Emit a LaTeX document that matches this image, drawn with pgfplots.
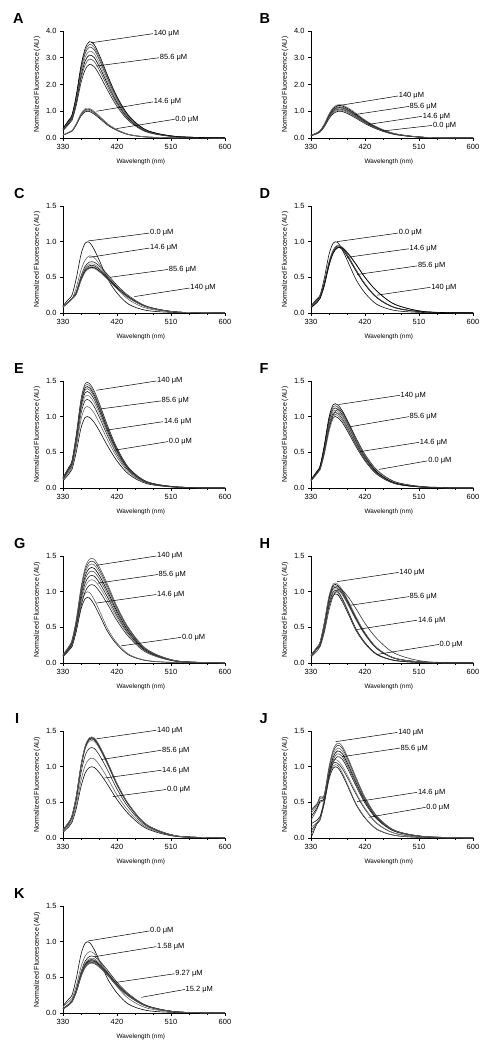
\documentclass[border=0pt]{standalone}
\usepackage{pgfplots}
\usepackage{pgfplotstable}
\pgfplotsset{compat=1.18}
\usepackage{fontspec}
\setmainfont{Liberation Sans}

% ---------- data: one row per spectrum, columns = wavelength (nm) ----------
\pgfplotstableread{
n 330 340 345 352 360 367 374 382 392 405 420 440 470 520 600
c1 .10 .20 .25 .48 .82 .98 .99 .89 .71 .47 .28 .12 .035 .006 .001
c2 .104 .208 .26 .50 .853 1.019 1.03 .926 .738 .489 .291 .125 .036 .006 .001
c3 .108 .216 .27 .518 .886 1.058 1.069 .961 .767 .508 .302 .13 .038 .006 .001
c4 .112 .224 .28 .538 .918 1.098 1.109 .997 .795 .526 .314 .134 .039 .007 .001
c5 .275 .523 .66 1.21 2.063 2.558 2.75 2.668 2.31 1.76 1.183 .633 .22 .041 .006
c6 .295 .561 .708 1.298 2.213 2.744 2.95 2.862 2.478 1.888 1.269 .679 .236 .044 .006
c7 .31 .589 .744 1.364 2.325 2.883 3.1 3.007 2.604 1.984 1.333 .713 .248 .047 .006
c8 .325 .618 .78 1.43 2.438 3.023 3.25 3.153 2.73 2.08 1.398 .748 .26 .049 .007
c9 .34 .646 .816 1.496 2.55 3.162 3.4 3.298 2.856 2.176 1.462 .782 .272 .051 .007
c10 .35 .665 .84 1.54 2.625 3.255 3.5 3.395 2.94 2.24 1.505 .805 .28 .053 .007
c11 .36 .684 .864 1.584 2.7 3.348 3.6 3.492 3.024 2.304 1.548 .828 .288 .054 .007
}\rawA
\pgfplotstabletranspose[colnames from=n,input colnames to=x]{\tabA}{\rawA}

\pgfplotstableread{
n 330 340 345 352 360 367 374 382 392 405 420 440 470 520 600
c1 .08 .16 .22 .41 .72 .91 .99 .99 .90 .74 .54 .33 .13 .02 .003
c2 .083 .166 .229 .426 .749 .946 1.03 1.03 .936 .77 .562 .343 .135 .021 .003
c3 .086 .173 .238 .443 .778 .983 1.069 1.069 .972 .799 .583 .356 .14 .022 .003
c4 .089 .178 .244 .455 .799 1.01 1.099 1.099 .999 .821 .599 .366 .144 .022 .003
c5 .091 .182 .251 .467 .821 1.037 1.129 1.129 1.026 .844 .616 .376 .148 .023 .003
c6 .094 .187 .257 .48 .842 1.065 1.158 1.158 1.053 .866 .632 .386 .152 .023 .004
c7 .097 .194 .266 .496 .871 1.101 1.198 1.198 1.089 .895 .653 .399 .157 .024 .004
c8 .10 .20 .275 .513 .90 1.138 1.238 1.238 1.125 .925 .675 .413 .163 .025 .004
}\rawB
\pgfplotstabletranspose[colnames from=n,input colnames to=x]{\tabB}{\rawB}

\pgfplotstableread{
n 330 340 345 352 360 367 374 382 392 405 420 440 470 520 600
c1 .10 .20 .25 .48 .82 .98 .99 .89 .71 .47 .28 .12 .035 .006 .001
c2 .08 .152 .192 .352 .60 .744 .80 .776 .672 .512 .344 .184 .064 .012 .002
c3 .09 .16 .20 .295 .518 .655 .713 .713 .648 .533 .389 .238 .094 .014 .002
c4 .09 .16 .20 .283 .497 .628 .683 .683 .621 .511 .373 .228 .09 .014 .002
c5 .09 .16 .20 .275 .482 .61 .663 .663 .603 .496 .362 .221 .087 .013 .002
c6 .09 .16 .20 .267 .468 .592 .644 .644 .585 .481 .351 .215 .085 .013 .002
c7 .09 .16 .20 .262 .461 .582 .634 .634 .576 .474 .346 .211 .083 .013 .002
c8 .09 .16 .20 .258 .454 .573 .624 .624 .567 .466 .34 .208 .082 .013 .002
}\rawC
\pgfplotstabletranspose[colnames from=n,input colnames to=x]{\tabC}{\rawC}

\pgfplotstableread{
n 330 340 345 352 360 367 374 382 392 405 420 440 470 520 600
c1 .10 .20 .25 .48 .82 .98 .99 .89 .71 .47 .28 .12 .035 .006 .001
c2 .095 .181 .228 .418 .713 .884 .95 .922 .798 .608 .409 .219 .076 .014 .002
c3 .094 .179 .226 .414 .705 .874 .94 .912 .79 .602 .404 .216 .075 .014 .002
c4 .093 .177 .223 .409 .698 .865 .93 .902 .781 .595 .40 .214 .074 .014 .002
c5 .092 .175 .221 .405 .69 .856 .92 .892 .773 .589 .396 .212 .074 .014 .002
c6 .074 .149 .205 .381 .67 .846 .921 .921 .837 .688 .502 .307 .121 .019 .003
c7 .074 .147 .202 .377 .662 .837 .911 .911 .828 .681 .497 .304 .12 .018 .003
}\rawD
\pgfplotstabletranspose[colnames from=n,input colnames to=x]{\tabD}{\rawD}

\pgfplotstableread{
n 330 340 345 352 360 367 374 382 392 405 420 440 470 520 600
c1 .10 .20 .26 .50 .84 .99 .99 .92 .78 .58 .38 .19 .06 .01 .001
c2 .114 .228 .296 .57 .958 1.129 1.129 1.049 .889 .661 .433 .217 .068 .011 .001
c3 .124 .248 .322 .62 1.042 1.228 1.228 1.141 .967 .719 .471 .236 .074 .012 .001
c4 .13 .26 .338 .65 1.092 1.287 1.287 1.196 1.014 .754 .494 .247 .078 .013 .001
c5 .135 .27 .351 .675 1.134 1.337 1.337 1.242 1.053 .783 .513 .257 .081 .014 .001
c6 .139 .278 .361 .695 1.168 1.376 1.376 1.279 1.084 .806 .528 .264 .083 .014 .001
c7 .142 .284 .369 .71 1.193 1.406 1.406 1.306 1.108 .824 .54 .27 .085 .014 .001
c8 .145 .29 .377 .725 1.218 1.436 1.436 1.334 1.131 .841 .551 .276 .087 .015 .001
c9 .148 .296 .385 .74 1.243 1.465 1.465 1.362 1.154 .858 .562 .281 .089 .015 .001
}\rawE
\pgfplotstabletranspose[colnames from=n,input colnames to=x]{\tabE}{\rawE}

\pgfplotstableread{
n 330 340 345 352 360 367 374 382 392 405 420 440 470 520 600
c1 .10 .20 .26 .50 .84 .99 .99 .92 .78 .58 .38 .19 .06 .01 .001
c2 .103 .206 .268 .515 .865 1.02 1.02 .948 .803 .597 .391 .196 .062 .01 .001
c3 .106 .212 .276 .53 .89 1.049 1.049 .975 .827 .615 .403 .201 .064 .011 .001
c4 .109 .218 .283 .545 .916 1.079 1.079 1.003 .85 .632 .414 .207 .065 .011 .001
c5 .112 .224 .291 .56 .941 1.109 1.109 1.03 .874 .65 .426 .213 .067 .011 .001
c6 .115 .23 .299 .575 .966 1.139 1.139 1.058 .897 .667 .437 .219 .069 .012 .001
c7 .118 .236 .307 .59 .991 1.168 1.168 1.086 .92 .684 .448 .224 .071 .012 .001
c8 .105 .20 .252 .462 .788 .977 1.05 1.019 .882 .672 .452 .242 .084 .016 .002
c9 .11 .209 .264 .484 .825 1.023 1.1 1.067 .924 .704 .473 .253 .088 .017 .002
}\rawF
\pgfplotstabletranspose[colnames from=n,input colnames to=x]{\tabF}{\rawF}

\pgfplotstableread{
n 330 340 345 352 360 367 374 382 392 405 420 440 470 520 600
c1 .092 .184 .23 .442 .754 .902 .911 .819 .653 .432 .258 .11 .032 .006 .001
c2 .10 .20 .25 .48 .82 .98 .99 .89 .71 .47 .28 .12 .035 .006 .001
c3 .088 .176 .242 .451 .792 1.001 1.089 1.089 .99 .814 .594 .363 .143 .022 .003
c4 .094 .187 .257 .48 .842 1.065 1.158 1.158 1.053 .866 .632 .386 .152 .023 .004
c5 .098 .197 .271 .504 .886 1.119 1.218 1.218 1.107 .91 .664 .406 .16 .025 .004
c6 .103 .206 .284 .529 .929 1.174 1.277 1.277 1.161 .955 .697 .426 .168 .026 .004
c7 .107 .214 .295 .549 .965 1.219 1.327 1.327 1.206 .992 .724 .442 .174 .027 .004
c8 .111 .222 .306 .57 1.001 1.265 1.376 1.376 1.251 1.029 .751 .459 .181 .028 .004
c9 .114 .229 .315 .586 1.03 1.301 1.416 1.416 1.287 1.058 .772 .472 .186 .029 .004
c10 .118 .235 .323 .603 1.058 1.338 1.455 1.455 1.323 1.088 .794 .485 .191 .029 .004
}\rawG
\pgfplotstabletranspose[colnames from=n,input colnames to=x]{\tabG}{\rawG}

\pgfplotstableread{
n 330 340 345 352 360 367 374 382 392 405 420 440 470 520 600
c1 .097 .194 .243 .466 .795 .951 .96 .863 .689 .456 .272 .116 .034 .006 .001
c2 .10 .20 .25 .48 .82 .98 .99 .89 .71 .47 .28 .12 .035 .006 .001
c3 .102 .204 .255 .49 .836 1.0 1.01 .908 .724 .479 .286 .122 .036 .006 .001
c4 .104 .208 .27 .52 .874 1.03 1.03 .957 .811 .603 .395 .198 .062 .01 .001
c5 .106 .212 .276 .53 .89 1.049 1.049 .975 .827 .615 .403 .201 .064 .011 .001
c6 .108 .216 .281 .54 .907 1.069 1.069 .994 .842 .626 .41 .205 .065 .011 .001
c7 .11 .22 .286 .55 .924 1.089 1.089 1.012 .858 .638 .418 .209 .066 .011 .001
c8 .112 .224 .291 .56 .941 1.109 1.109 1.03 .874 .65 .426 .213 .067 .011 .001
c9 .082 .165 .227 .422 .742 .937 1.02 1.02 .927 .762 .556 .34 .134 .021 .003
}\rawH
\pgfplotstabletranspose[colnames from=n,input colnames to=x]{\tabH}{\rawH}

\pgfplotstableread{
n 330 340 345 352 360 367 374 382 392 405 420 440 470 520 600
c1 .08 .16 .22 .41 .72 .91 .99 .99 .90 .74 .54 .33 .13 .02 .003
c2 .09 .179 .246 .459 .806 1.019 1.109 1.109 1.008 .829 .605 .37 .146 .022 .003
c3 .102 .203 .279 .521 .914 1.156 1.257 1.257 1.143 .94 .686 .419 .165 .025 .004
c4 .11 .219 .301 .562 .986 1.247 1.356 1.356 1.233 1.014 .74 .452 .178 .027 .004
c5 .111 .222 .306 .57 1.001 1.265 1.376 1.376 1.251 1.029 .751 .459 .181 .028 .004
c6 .112 .224 .308 .574 1.008 1.274 1.386 1.386 1.26 1.036 .756 .462 .182 .028 .004
c7 .113 .226 .31 .578 1.015 1.283 1.396 1.396 1.269 1.043 .761 .465 .183 .028 .004
c8 .114 .227 .312 .582 1.022 1.292 1.406 1.406 1.278 1.051 .767 .469 .185 .028 .004
}\rawI
\pgfplotstabletranspose[colnames from=n,input colnames to=x]{\tabI}{\rawI}

\pgfplotstableread{
n 330 340 345 352 360 367 374 382 392 405 420 440 470 520 600
c1 .0 .20 .25 .48 .82 .98 .99 .89 .71 .47 .28 .12 .035 .006 .001
c2 .05 .206 .258 .494 .845 1.009 1.02 .917 .731 .484 .288 .124 .036 .006 .001
c3 .10 .212 .276 .53 .89 1.049 1.049 .975 .827 .615 .403 .201 .064 .011 .001
c4 .15 .22 .286 .55 .924 1.089 1.089 1.012 .858 .638 .418 .209 .066 .011 .001
c5 .20 .25 .30 .502 .855 1.06 1.14 1.106 .958 .73 .49 .262 .091 .017 .002
c6 .25 .40 .50 .55 .885 1.097 1.18 1.145 .991 .755 .507 .271 .094 .018 .002
c7 .30 .42 .52 .56 .915 1.135 1.22 1.183 1.025 .781 .525 .281 .098 .018 .002
c8 .35 .45 .55 .58 .945 1.172 1.26 1.222 1.058 .806 .542 .29 .101 .019 .003
c9 .40 .48 .58 .60 .975 1.209 1.30 1.261 1.092 .832 .559 .299 .104 .02 .003
c10 .38 .46 .56 .60 .998 1.237 1.33 1.29 1.117 .851 .572 .306 .106 .02 .003
}\rawJ
\pgfplotstabletranspose[colnames from=n,input colnames to=x]{\tabJ}{\rawJ}

\pgfplotstableread{
n 330 340 345 352 360 367 374 382 392 405 420 440 470 520 600
c1 .10 .20 .25 .48 .82 .98 .99 .89 .71 .47 .28 .12 .035 .006 .001
c2 .086 .163 .206 .378 .645 .80 .86 .834 .722 .55 .37 .198 .069 .013 .002
c3 .064 .128 .176 .328 .576 .728 .792 .792 .72 .592 .432 .264 .104 .016 .002
c4 .062 .123 .169 .316 .554 .701 .762 .762 .693 .57 .416 .254 .10 .015 .002
c5 .06 .12 .165 .308 .54 .683 .743 .743 .675 .555 .405 .248 .098 .015 .002
c6 .059 .118 .163 .303 .533 .673 .733 .733 .666 .548 .40 .244 .096 .015 .002
c7 .058 .117 .161 .299 .526 .664 .723 .723 .657 .54 .394 .241 .095 .015 .002
c8 .058 .115 .158 .295 .518 .655 .713 .713 .648 .533 .389 .238 .094 .014 .002
c9 .057 .114 .156 .291 .511 .646 .703 .703 .639 .525 .383 .234 .092 .014 .002
c10 .056 .112 .154 .287 .504 .637 .693 .693 .63 .518 .378 .231 .091 .014 .002
}\rawK
\pgfplotstabletranspose[colnames from=n,input colnames to=x]{\tabK}{\rawK}

\newcommand{\lbf}{\fontsize{7.5}{8}\selectfont}
\newcommand{\lab}[5]{\draw[black,line width=0.5pt] (axis cs:#1,#2) -- (axis cs:#3,#4) node[anchor=west,inner sep=0.6pt,font=\lbf] {#5};}
\newcommand{\letter}[3]{\node[anchor=base west,inner sep=0pt,font=\bfseries\fontsize{14.5}{15}\selectfont] at (#1pt,#2pt) {#3};}

\pgfplotsset{
  panel/.style={
    width=162pt, height=107pt, scale only axis, anchor=south west,
    xmin=330, xmax=600, ymin=0,
    xtick={330,420,510,600}, minor x tick num=2,
    axis x line*=bottom, axis y line*=left,
    tick align=outside, major tick length=3pt, minor tick length=2pt,
    every tick/.style={black, line width=0.8pt},
    axis line style={black, line width=0.9pt},
    xlabel={Wavelength (nm)}, ylabel={Normalized Fluorescence (AU)},
    every axis x label/.style={at={(axis description cs:0.48,-0.224)}, anchor=center, font=\fontsize{6.4}{7}\selectfont},
    every axis y label/.style={at={(axis description cs:-0.16,0.5)}, rotate=90, anchor=center, font=\fontsize{7}{8}\selectfont},
    ticklabel style={font=\fontsize{7.5}{8}\selectfont},
    y tick label style={/pgf/number format/.cd, fixed, fixed zerofill, precision=1, /tikz/.cd},
    /pgf/number format/assume math mode=true,
    clip=false,
    cycle list={{black!95},{black!60},{black!85},{black!50},{black!90},{black!70},{black},{black!55},{black!80},{black!65},{black}},
    every axis plot/.append style={line width=0.6pt, smooth, no markers},
  },
  big/.style={ymax=4, ytick={0,1,2,3,4}},
  small/.style={ymax=1.5, ytick={0,0.5,1,1.5}},
}

\begin{document}
\begin{tikzpicture}
\useasboundingbox (0,0) rectangle (491pt,1050pt);

% A
\begin{axis}[panel, big, at={(63pt,912pt)}]
\pgfplotsinvokeforeach{1,...,11}{\addplot table[x=x,y=c#1]{\tabA};}
\lab{377}{3.56}{480}{3.90}{140 μM}
\lab{385.6}{2.69}{490}{3.0}{85.6 μM}
\lab{385.6}{1.0}{480}{1.35}{14.6 μM}
\lab{419}{0.35}{516}{0.70}{0.0 μM}
\end{axis}
% B
\begin{axis}[panel, big, at={(311pt,912pt)}]
\pgfplotsinvokeforeach{1,...,8}{\addplot table[x=x,y=c#1]{\tabB};}
\lab{373}{1.2}{475}{1.57}{140 μM}
\lab{404}{0.88}{493}{1.18}{85.6 μM}
\lab{426}{0.51}{515}{0.81}{14.6 μM}
\lab{449}{0.26}{532}{0.47}{0.0 μM}
\end{axis}
% C
\begin{axis}[panel, small, at={(63pt,737pt)}]
\pgfplotsinvokeforeach{1,...,8}{\addplot table[x=x,y=c#1]{\tabC};}
\lab{372}{1.01}{474}{1.12}{0.0 μM}
\lab{374}{0.78}{474}{0.91}{14.6 μM}
\lab{408}{0.50}{505}{0.61}{85.6 μM}
\lab{449}{0.23}{541}{0.35}{140 μM}
\end{axis}
% D
\begin{axis}[panel, small, at={(311pt,737pt)}]
\pgfplotsinvokeforeach{1,...,7}{\addplot table[x=x,y=c#1]{\tabD};}
\lab{373}{1.0}{475}{1.12}{0.0 μM}
\lab{390}{0.78}{493}{0.90}{14.6 μM}
\lab{407}{0.54}{507}{0.66}{85.6 μM}
\lab{440}{0.25}{529}{0.36}{140 μM}
\end{axis}
% E
\begin{axis}[panel, small, at={(63pt,562pt)}]
\pgfplotsinvokeforeach{1,...,9}{\addplot table[x=x,y=c#1]{\tabE};}
\lab{385.6}{1.37}{485.6}{1.50}{140 μM}
\lab{394}{1.11}{493}{1.22}{85.6 μM}
\lab{402}{0.81}{497}{0.93}{14.6 μM}
\lab{416}{0.53}{505}{0.65}{0.0 μM}
\end{axis}
% F
\begin{axis}[panel, small, at={(311pt,562pt)}]
\pgfplotsinvokeforeach{1,...,9}{\addplot table[x=x,y=c#1]{\tabF};}
\lab{376}{1.17}{478}{1.30}{140 μM}
\lab{396}{0.86}{493}{1.0}{85.6 μM}
\lab{412}{0.51}{510}{0.64}{14.6 μM}
\lab{443}{0.26}{524}{0.38}{0.0 μM}
\end{axis}
% G
\begin{axis}[panel, small, at={(63pt,387pt)}]
\pgfplotsinvokeforeach{1,...,10}{\addplot table[x=x,y=c#1]{\tabG};}
\lab{385.6}{1.37}{485.6}{1.50}{140 μM}
\lab{388}{1.12}{488}{1.24}{85.6 μM}
\lab{385.6}{0.84}{485.6}{0.96}{14.6 μM}
\lab{427}{0.24}{527}{0.36}{0.0 μM}
\end{axis}
% H
\begin{axis}[panel, small, at={(311pt,387pt)}]
\pgfplotsinvokeforeach{1,...,9}{\addplot table[x=x,y=c#1]{\tabH};}
\lab{373}{1.14}{476}{1.27}{140 μM}
\lab{396}{0.81}{493}{0.93}{85.6 μM}
\lab{407}{0.47}{507}{0.60}{14.6 μM}
\lab{440}{0.12}{543}{0.26}{0.0 μM}
\end{axis}
% I
\begin{axis}[panel, small, at={(63pt,212pt)}]
\pgfplotsinvokeforeach{1,...,8}{\addplot table[x=x,y=c#1]{\tabI};}
\lab{385.6}{1.39}{485.6}{1.51}{140 μM}
\lab{394}{1.10}{494}{1.23}{85.6 μM}
\lab{399}{0.84}{494}{0.95}{14.6 μM}
\lab{413}{0.58}{502}{0.68}{0.0 μM}
\end{axis}
% J
\begin{axis}[panel, small, at={(311pt,212pt)}]
\pgfplotsinvokeforeach{1,...,10}{\addplot table[x=x,y=c#1]{\tabJ};}
\lab{371}{1.35}{474}{1.48}{140 μM}
\lab{382}{1.14}{478}{1.26}{85.6 μM}
\lab{407}{0.51}{507}{0.64}{14.6 μM}
\lab{426}{0.29}{521}{0.43}{0.0 μM}
\end{axis}
% K
\begin{axis}[panel, small, at={(63pt,37pt)}]
\pgfplotsinvokeforeach{1,...,10}{\addplot table[x=x,y=c#1]{\tabK};}
\lab{372}{1.01}{474}{1.15}{0.0 μM}
\lab{383}{0.79}{485.6}{0.93}{1.58 μM}
\lab{419}{0.43}{516}{0.55}{9.27 μM}
\lab{460.6}{0.22}{533}{0.33}{15.2 μM}
\end{axis}

\letter{13}{1026}{A}
\letter{259.5}{1026}{B}
\letter{14}{851}{C}
\letter{259.5}{851}{D}
\letter{14}{676}{E}
\letter{259.5}{676}{F}
\letter{14}{501}{G}
\letter{259.5}{501}{H}
\letter{15}{326}{I}
\letter{259.5}{326}{J}
\letter{14}{151}{K}
\end{tikzpicture}
\end{document}
